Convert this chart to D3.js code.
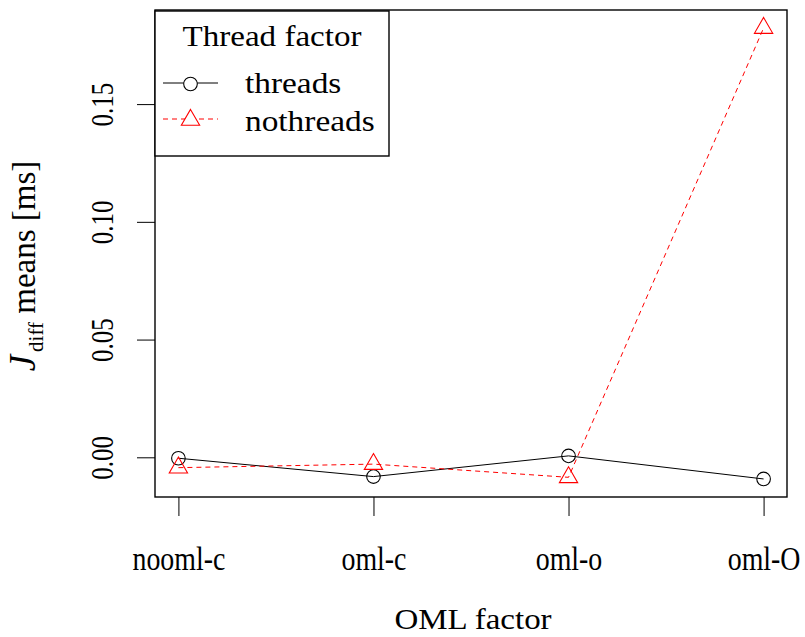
<!DOCTYPE html>
<html>
<head>
<meta charset="utf-8">
<script src="https://cdn.jsdelivr.net/npm/d3@7"></script>
<style>
  html, body { margin: 0; padding: 0; background: #fff; }
  svg { display: block; }
  text { font-family: "Liberation Serif", "Times New Roman", serif; fill: #000; }
</style>
</head>
<body>
<svg id="chart" width="805" height="637"></svg>
<script>
// ---- data ----
const categories = ["nooml-c", "oml-c", "oml-o", "oml-O"];
const threadsValues = [-0.0004, -0.0082, 0.0006, -0.0092];
const nothreadsValues = [-0.0044, -0.0029, -0.0085, 0.1823];
const yTicks = [0.00, 0.05, 0.10, 0.15];
const seriesNames = ["threads", "nothreads"];
const legendTitle = "Thread factor";
const xTitle = "OML factor";

// ---- layout ----
const plot = { left: 155, right: 787, top: 10, bottom: 497 };
const svg = d3.select("#chart");

// R-style extended ranges
const n = categories.length;
const xExt = (n - 1) * 0.04;
const x = d3.scaleLinear().domain([1 - xExt, n + xExt]).range([plot.left, plot.right]);
const allVals = threadsValues.concat(nothreadsValues);
const ymin = d3.min(allVals), ymax = d3.max(allVals);
const yExt = (ymax - ymin) * 0.04;
const y = d3.scaleLinear().domain([ymin - yExt, ymax + yExt]).range([plot.bottom, plot.top]);

// ---- axes ----
const xAxis = d3.axisBottom(x)
  .tickValues(d3.range(1, n + 1))
  .tickFormat(i => categories[i - 1])
  .tickSize(19);
const gx = svg.append("g").attr("transform", `translate(0,${plot.bottom})`).call(xAxis);
gx.attr("font-family", null);
gx.select(".domain").remove();
gx.selectAll(".tick line").attr("stroke", "#000").attr("stroke-width", 1);
gx.selectAll(".tick text")
  .attr("x", null).attr("y", null).attr("dy", null)
  .attr("fill", "#000")
  .style("font-family", '"Liberation Serif", serif')
  .style("font-size", "34px")
  .attr("text-anchor", "middle")
  .attr("transform", "translate(0,73) scale(0.82,1)");

const yAxis = d3.axisLeft(y).tickValues(yTicks).tickFormat(d3.format(".2f")).tickSize(18);
const gy = svg.append("g").attr("transform", `translate(${plot.left},0)`).call(yAxis);
gy.attr("font-family", null);
gy.select(".domain").remove();
gy.selectAll(".tick line").attr("stroke", "#000").attr("stroke-width", 1);
gy.selectAll(".tick text")
  .attr("x", null).attr("y", null).attr("dy", null)
  .attr("fill", "#000")
  .style("font-family", '"Liberation Serif", serif')
  .style("font-size", "32px")
  .attr("text-anchor", "middle")
  .attr("transform", "translate(-42,0) rotate(-90) scale(0.78,1)");

// ---- lines ----
const line = d3.line().x((d, i) => x(i + 1)).y(d => y(d));
svg.append("path").datum(threadsValues)
  .attr("d", line).attr("fill", "none").attr("stroke", "#000").attr("stroke-width", 1);
svg.append("path").datum(nothreadsValues)
  .attr("d", line).attr("fill", "none").attr("stroke", "#ff0000").attr("stroke-width", 1)
  .attr("stroke-dasharray", "5,4");

// ---- markers ----
const s = 6.8;
function triPath(cx, cy) {
  const r = 1.555 * s, xc = 1.347 * s, yc = 0.778 * s;
  return `M${cx},${cy - r}L${cx + xc},${cy + yc}L${cx - xc},${cy + yc}Z`;
}
svg.append("g").selectAll("circle").data(threadsValues).join("circle")
  .attr("cx", (d, i) => x(i + 1)).attr("cy", d => y(d)).attr("r", s)
  .attr("fill", "none").attr("stroke", "#000").attr("stroke-width", 1.1);
svg.append("g").selectAll("path").data(nothreadsValues).join("path")
  .attr("d", (d, i) => triPath(x(i + 1), y(d)))
  .attr("fill", "none").attr("stroke", "#ff0000").attr("stroke-width", 1.1);

// ---- box ----
svg.append("rect")
  .attr("x", plot.left).attr("y", plot.top)
  .attr("width", plot.right - plot.left).attr("height", plot.bottom - plot.top)
  .attr("fill", "none").attr("stroke", "#000").attr("stroke-width", 1.4);

// ---- legend ----
const lg = svg.append("g");
lg.append("rect").attr("x", 155).attr("y", 11).attr("width", 234).attr("height", 145)
  .attr("fill", "#fff").attr("stroke", "#000").attr("stroke-width", 1.4);
lg.append("text").attr("transform", "translate(272,45.5) scale(1.14,1)")
  .attr("text-anchor", "middle").style("font-size", "29px").text(legendTitle);
const rowY = [83, 119];
const rowBase = [92.5, 131];
lg.append("line").attr("x1", 163).attr("x2", 218).attr("y1", rowY[0]).attr("y2", rowY[0])
  .attr("stroke", "#000").attr("stroke-width", 1);
lg.append("circle").attr("cx", 190.5).attr("cy", rowY[0] + 1).attr("r", s)
  .attr("fill", "#fff").attr("stroke", "#000").attr("stroke-width", 1.1);
lg.append("line").attr("x1", 163).attr("x2", 218).attr("y1", rowY[1]).attr("y2", rowY[1])
  .attr("stroke", "#ff0000").attr("stroke-width", 1).attr("stroke-dasharray", "5,4");
lg.append("path").attr("d", triPath(190.5, rowY[1] + 1))
  .attr("fill", "#fff").attr("stroke", "#ff0000").attr("stroke-width", 1.1);
seriesNames.forEach((nm, i) => {
  lg.append("text").attr("transform", `translate(245,${rowBase[i]}) scale(1.15,1)`)
    .style("font-size", "29px").text(nm);
});

// ---- axis titles ----
svg.append("text").attr("transform", `translate(${(plot.left + plot.right) / 2 + 2},629) scale(1.1,1)`)
  .attr("text-anchor", "middle").style("font-size", "30px").text(xTitle);

const yl = svg.append("text")
  .attr("transform", "translate(35,266) rotate(-90)")
  .attr("text-anchor", "middle").style("font-size", "33px");
yl.append("tspan").style("font-style", "italic").style("font-size", "37px").text("J");
yl.append("tspan").attr("dx", 3).attr("dy", 8).style("font-size", "21px").text("diff");
yl.append("tspan").attr("dy", -8).text("\u00a0means [ms]");
</script>
</body>
</html>
